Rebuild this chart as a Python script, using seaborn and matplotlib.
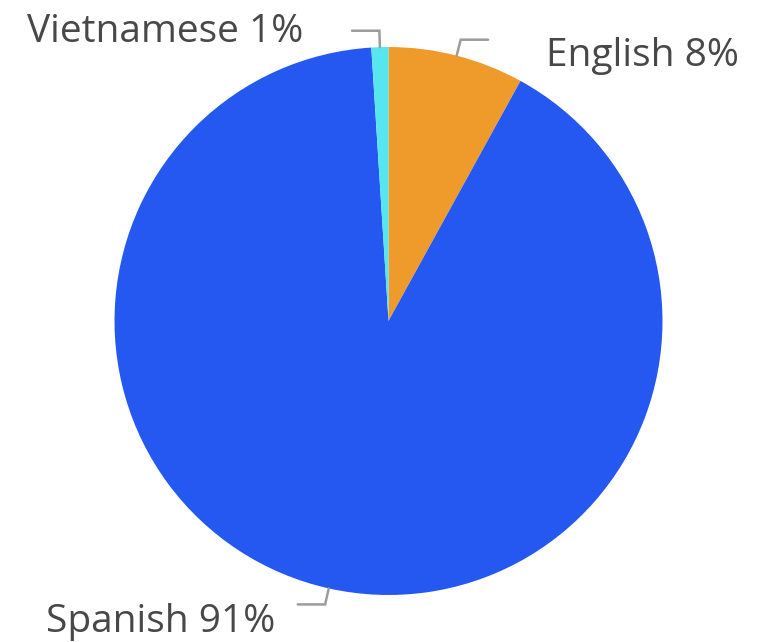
import numpy as np
import matplotlib
matplotlib.use("Agg")
import matplotlib.pyplot as plt
import seaborn as sns

# Home language share
languages = ["English", "Spanish", "Vietnamese"]
shares = [8, 91, 1]
colors = ["#ef9b2b", "#2558f1", "#57e6ef"]

sns.set_theme(style="white")
plt.rcParams["font.family"] = ["Open Sans", "DejaVu Sans"]

fig = plt.figure(figsize=(7.65, 6.42), dpi=100)
ax = fig.add_axes([0.1497, 0.0732, 0.7163, 0.8536])

wedges, _ = ax.pie(shares, colors=colors, startangle=90, counterclock=False,
                   radius=1.0, wedgeprops=dict(linewidth=0))
ax.set_xlim(-1, 1)
ax.set_ylim(-1, 1)
ax.set_aspect("equal")
ax.axis("off")

# label text offsets (pixels) from the end of each leader line
text_offsets = {
    "English": (58, -26),
    "Spanish": (-23, -28),
    "Vietnamese": (-49, -11),
}

for w, name, val in zip(wedges, languages, shares):
    ang = np.deg2rad((w.theta1 + w.theta2) / 2)
    x0, y0 = np.cos(ang), np.sin(ang)
    x1, y1 = 1.06 * x0, 1.06 * y0
    side = 1 if x0 >= 0 else -1
    x2 = x1 + side * 0.1
    ax.plot([x0, x1, x2], [y0, y1, y1], color="#9c9c9c", lw=1.8,
            solid_joinstyle="miter", clip_on=False)
    ax.annotate(f"{name} {val}%", xy=(x2, y1), xytext=text_offsets[name],
                textcoords="offset pixels", ha="left" if side > 0 else "right",
                va="baseline", fontsize=28, color="#484848",
                annotation_clip=False)

fig.savefig("out.png", dpi=100, facecolor="white")
